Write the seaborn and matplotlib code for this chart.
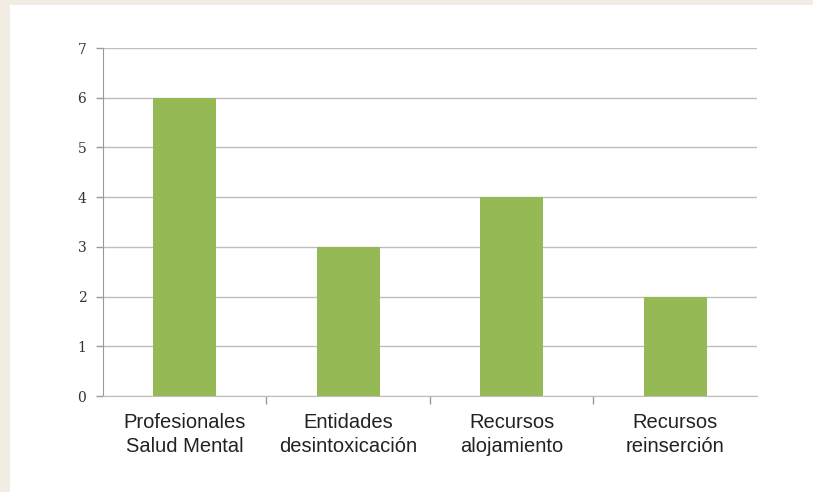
import seaborn as sns
import matplotlib.pyplot as plt
import pandas as pd
from matplotlib.patches import Rectangle

categorias = ['Profesionales\nSalud Mental', 'Entidades\ndesintoxicación',
              'Recursos\nalojamiento', 'Recursos\nreinserción']
valores = [6, 3, 4, 2]

df = pd.DataFrame({'categoria': categorias, 'valor': valores})

sns.set_style('white')
plt.rcParams['font.family'] = ['Liberation Sans', 'DejaVu Sans']

fig = plt.figure(figsize=(8.13, 4.92), dpi=100)
fig.patch.set_facecolor('white')
# borde beige del recorte original
fig.patches.append(Rectangle((0, 0.99), 1, 0.01, transform=fig.transFigure,
                             facecolor='#f2ede3', edgecolor='none', zorder=0))
fig.patches.append(Rectangle((0, 0), 0.012, 1, transform=fig.transFigure,
                             facecolor='#f2ede3', edgecolor='none', zorder=0))

ax = fig.add_axes([0.1267, 0.195, 0.8043, 0.7073])
sns.barplot(data=df, x='categoria', y='valor', color='#95ba55', saturation=1,
            width=0.385, linewidth=0, edgecolor='none', ax=ax, zorder=3)

ax.set_ylim(0, 7)
ax.set_xlim(-0.5, 3.5)
ax.set_yticks(range(0, 8))
ax.yaxis.grid(True, color='#bdbdbd', linewidth=1, zorder=0)
ax.set_axisbelow(True)
ax.set_xlabel('')
ax.set_ylabel('')

for s in ['top', 'right']:
    ax.spines[s].set_visible(False)
ax.spines['left'].set_color('#9a9a9a')
ax.spines['bottom'].set_color('#bdbdbd')

ax.tick_params(axis='y', which='major', length=5, color='#9a9a9a', width=1,
               labelsize=10, labelcolor='#333333', pad=7, left=True)
ax.tick_params(axis='x', which='major', length=0, labelsize=14.5,
               labelcolor='#222222', pad=12)
for t in ax.get_xticklabels():
    t.set_linespacing(1.35)
ax.set_xticks([0.5, 1.5, 2.5], minor=True)
ax.tick_params(axis='x', which='minor', length=6, color='#9a9a9a', width=1,
               bottom=True)
for t in ax.get_yticklabels():
    t.set_family('DejaVu Serif')

fig.savefig('out.png', dpi=100)
